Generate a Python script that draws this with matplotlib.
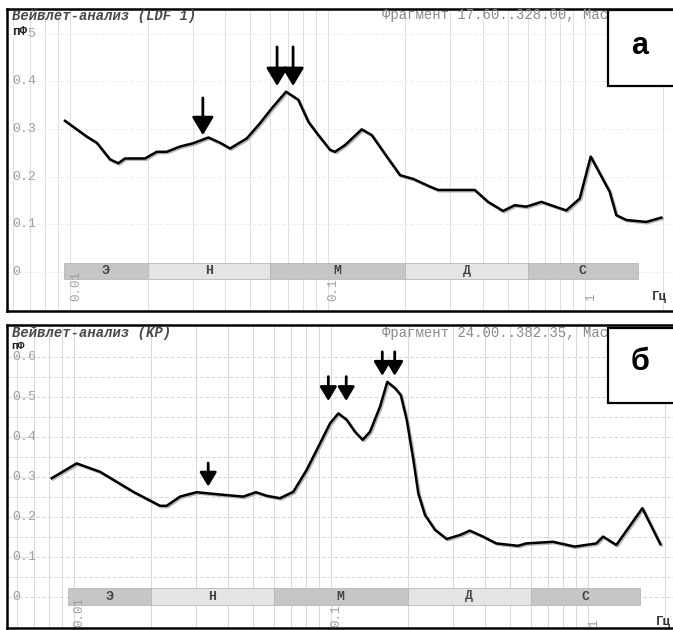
import matplotlib
matplotlib.use("Agg")
import matplotlib.pyplot as plt
import matplotlib.transforms as mtransforms
from matplotlib.patches import Rectangle
from matplotlib.ticker import LogLocator, NullFormatter, FixedLocator

plt.rcParams['font.family'] = ['Liberation Mono', 'DejaVu Sans Mono']

# frequency bands (Hz) shared by both panels
band_names = ["Э", "Н", "М", "Д", "С"]
band_edges = [0.0095, 0.02, 0.06, 0.2, 0.6, 1.6]
band_colors = ["#c6c6c6", "#e4e4e4", "#c6c6c6", "#e4e4e4", "#c6c6c6"]

# panel a - LDF 1
freq_a = [0.00956, 0.01161, 0.0127, 0.0143, 0.0154, 0.01635, 0.01956, 0.02171,
          0.02374, 0.02674, 0.03012, 0.03445, 0.03825, 0.04182, 0.04857, 0.05468,
          0.06071, 0.069, 0.077, 0.08424, 0.0921, 0.1023, 0.1069, 0.1169,
          0.1358, 0.1485, 0.1698, 0.1912, 0.2154, 0.25, 0.2686, 0.3729,
          0.42, 0.4803, 0.5333, 0.5916, 0.6766, 0.8458, 0.9537, 1.052,
          1.247, 1.323, 1.447, 1.73, 1.978]
amp_a = [0.317, 0.284, 0.271, 0.236, 0.228, 0.238, 0.238, 0.252,
         0.252, 0.263, 0.27, 0.282, 0.271, 0.259, 0.28, 0.312,
         0.343, 0.378, 0.361, 0.315, 0.287, 0.256, 0.252, 0.266,
         0.299, 0.287, 0.242, 0.203, 0.195, 0.179, 0.172, 0.172,
         0.147, 0.128, 0.14, 0.137, 0.147, 0.129, 0.154, 0.242,
         0.168, 0.119, 0.109, 0.105, 0.114]
arrows_a = [(0.0328, 0.287, 0.365), (0.0637, 0.39, 0.472), (0.0735, 0.39, 0.472)]

# panel b - KP
freq_b = [0.00822, 0.01028, 0.01267, 0.01707, 0.02169, 0.02303, 0.02594, 0.03013,
          0.03604, 0.04573, 0.05125, 0.05641, 0.06354, 0.07159, 0.08072, 0.09095,
          0.09947, 0.1072, 0.1155, 0.1244, 0.1333, 0.1423, 0.1557, 0.1662,
          0.1781, 0.1875, 0.1978, 0.2099, 0.2194, 0.2329, 0.2548, 0.283,
          0.3189, 0.3477, 0.3917, 0.4413, 0.536, 0.5773, 0.7334, 0.8908,
          1.081, 1.148, 1.293, 1.633, 1.919]
amp_b = [0.297, 0.334, 0.313, 0.263, 0.228, 0.228, 0.251, 0.262,
         0.257, 0.251, 0.262, 0.253, 0.247, 0.263, 0.318, 0.384,
         0.434, 0.459, 0.443, 0.413, 0.393, 0.413, 0.476, 0.538,
         0.522, 0.505, 0.443, 0.343, 0.259, 0.205, 0.168, 0.145,
         0.155, 0.166, 0.151, 0.134, 0.128, 0.134, 0.138, 0.126,
         0.134, 0.151, 0.130, 0.222, 0.132]
arrows_b = [(0.0334, 0.276, 0.335), (0.098, 0.49, 0.551), (0.115, 0.49, 0.551),
            (0.1589, 0.553, 0.613), (0.1776, 0.553, 0.613)]

W, H = 673, 630
fig = plt.figure(figsize=(W / 100, H / 100), dpi=100)


def px_axes(left, top, right, bottom):
    return fig.add_axes([left / W, 1 - bottom / H, (right - left) / W, (bottom - top) / H])


def fig_text(x, y, s, **kw):
    fig.text(x / W, 1 - y / H, s, **kw)


def draw_panel(ax, freq, amp, arrows, ymax, xlim, ylim, band_y, band_h,
               grid_color, hgrid_color, hgrid_step, head_scale):
    ax.set_xscale("log")
    ax.set_xlim(*xlim)
    ax.set_ylim(*ylim)
    ax.xaxis.set_major_locator(LogLocator(base=10))
    ax.xaxis.set_minor_locator(LogLocator(base=10, subs=range(2, 10)))
    ax.xaxis.set_major_formatter(NullFormatter())
    ax.xaxis.set_minor_formatter(NullFormatter())
    ax.yaxis.set_major_locator(FixedLocator([i * hgrid_step for i in range(int(ymax / hgrid_step) + 2)]))
    ax.yaxis.set_major_formatter(NullFormatter())
    ax.tick_params(which="both", length=0)
    ax.grid(True, which="both", axis="x", color=grid_color, lw=0.7)
    ax.grid(True, which="major", axis="y", color=hgrid_color, lw=0.7, ls=(0, (4, 2)))
    for s in ["left", "top", "bottom"]:
        ax.spines[s].set_linewidth(1.8)
    ax.spines["right"].set_visible(False)

    # band bar
    for i, name in enumerate(band_names):
        lo, hi = band_edges[i], band_edges[i + 1]
        ax.add_patch(Rectangle((lo, band_y), hi - lo, band_h, fc=band_colors[i],
                               ec="#b8b8b8", lw=0.6, zorder=2))
        ax.text((lo * hi) ** 0.5, band_y + band_h / 2, name, ha="center", va="center",
                fontsize=9.5, fontweight="bold", color="#444444", zorder=3)

    # y labels
    yt = ax.get_yaxis_transform()
    n = int(round(ymax * 10))
    for i in range(n + 1):
        lab = "0" if i == 0 else "0.%d" % i
        ax.text(0.0075, i / 10, lab, transform=yt, ha="left", va="center",
                fontsize=9.5, color="#a0a0a0", zorder=3)

    # curve with faint gray shadow
    shadow = mtransforms.offset_copy(ax.transData, fig=fig, x=1.3, y=-1.2, units="dots")
    ax.plot(freq, amp, color="#b5b5b5", lw=2.0, transform=shadow, zorder=4,
            solid_joinstyle="round")
    ax.plot(freq, amp, color="black", lw=1.8, zorder=5, solid_joinstyle="round")

    for f, tip, top in arrows:
        ax.annotate("", xy=(f, tip), xytext=(f, top),
                    arrowprops=dict(arrowstyle="-|>,head_length=0.5,head_width=0.3",
                                    color="black", lw=2.0, mutation_scale=head_scale,
                                    shrinkA=0, shrinkB=0), zorder=6)


# panel a
ax_a = px_axes(7, 9, 673, 311)
draw_panel(ax_a, freq_a, amp_a, arrows_a, 0.5, (0.005693, 2.196), (-0.0818, 0.5514),
           -0.0153, 0.0348, "#dedede", "#ededed", 0.1, 22)
# panel b
ax_b = px_axes(7, 325, 673, 628)
draw_panel(ax_b, freq_b, amp_b, arrows_b, 0.6, (0.005507, 2.149), (-0.0775, 0.68),
           -0.02, 0.0425, "#d4d8de", "#d4d8de", 0.05, 17)

# x tick labels (rotated), under the band bar
for ax, ybot in [(ax_a, 301), (ax_b, 627)]:
    for f, lab in [(0.01, "0.01"), (0.1, "0.1"), (1, "1")]:
        x_disp = ax.transData.transform((f, 0))[0] + 6
        ax.text(x_disp / W, 1 - ybot / H, lab, transform=fig.transFigure, rotation=90,
                ha="center", va="bottom", fontsize=9, color="#a0a0a0", zorder=3)

# headers
fig_text(12, 16, "Вейвлет-анализ (LDF 1)", fontsize=10, fontweight="bold",
         fontstyle="italic", color="#4a4a4a", va="center")
fig_text(382, 15, "Фрагмент 17.60..328.00, Мас", fontsize=10, color="#8a8a8a", va="center")
fig_text(12, 333, "Вейвлет-анализ (KP)", fontsize=10, fontweight="bold",
         fontstyle="italic", color="#4a4a4a", va="center")
fig_text(382, 333, "Фрагмент 24.00..382.35, Мас", fontsize=10, color="#8a8a8a", va="center")

# units (in the original the unit label sits on top of the "0.5" label)
fig_text(12, 32, "пФ", fontsize=9, fontweight="bold", color="#222222", va="center",
         bbox=dict(fc="white", ec="none", pad=0.2))
fig_text(11, 346, "пФ", fontsize=8, fontweight="bold", color="#222222", va="center")
fig_text(652, 297, "Гц", fontsize=9, fontweight="bold", color="#333333", va="center")
fig_text(656, 622, "Гц", fontsize=9, fontweight="bold", color="#333333", va="center")

# panel letters
for top, bottom, letter, yc in [(10, 86, "а", 46), (328, 403, "б", 362)]:
    fig.patches.append(Rectangle((608 / W, 1 - bottom / H), 80 / W, (bottom - top) / H,
                                 transform=fig.transFigure, fc="white", ec="black",
                                 lw=1.6, zorder=10))
    fig_text(640, yc, letter, fontsize=22, fontweight="bold", family="Liberation Sans",
             ha="center", va="center", zorder=11)

fig.savefig("out.png", dpi=100)
